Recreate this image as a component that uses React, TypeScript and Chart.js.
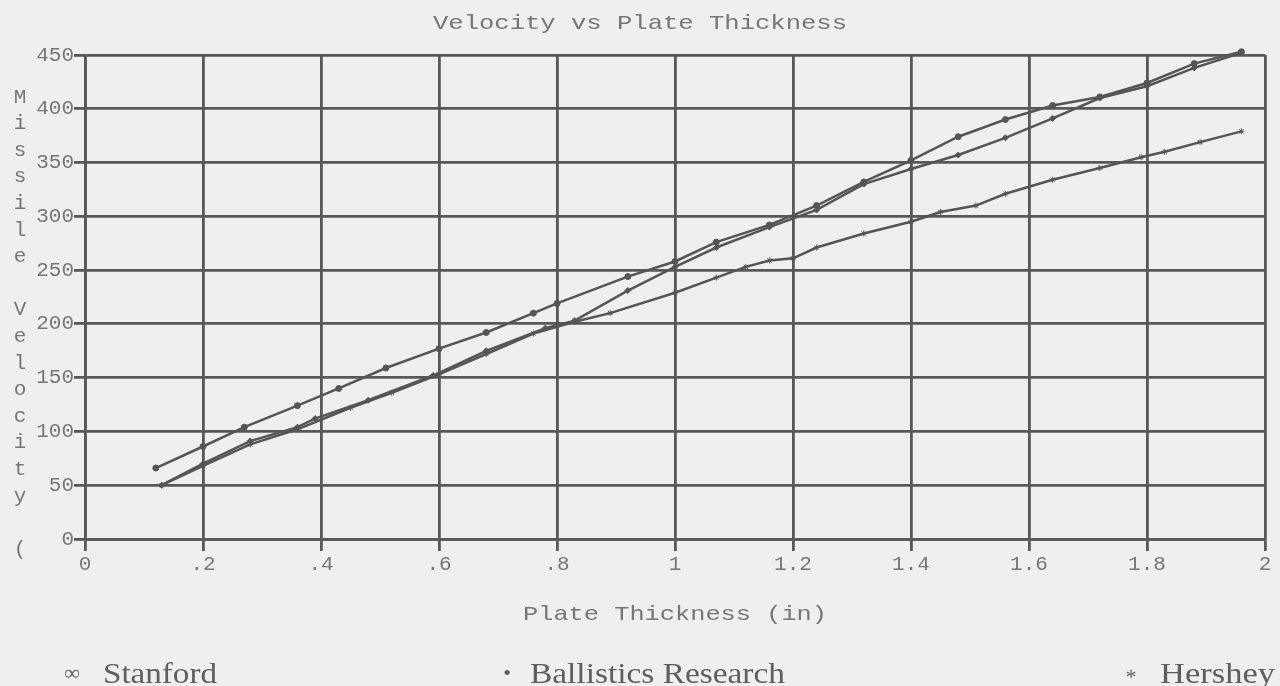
import React, { useEffect, useRef } from "react";
import { Chart, registerables } from "chart.js";

Chart.register(...registerables);

// Plate thickness (in) and missile velocity for each source
const stanfordX = [0.12, 0.2, 0.27, 0.36, 0.43, 0.51, 0.6, 0.68, 0.76, 0.8, 0.92, 1.0, 1.07, 1.16, 1.24, 1.32, 1.4, 1.48, 1.56, 1.64, 1.72, 1.8, 1.88, 1.96];
const stanfordY = [66, 86, 104, 124, 140, 159, 177, 192, 210, 219, 244, 258, 276, 292, 310, 332, 352, 374, 390, 403, 411, 424, 442, 453];

const ballisticsX = [0.13, 0.2, 0.28, 0.36, 0.39, 0.48, 0.59, 0.68, 0.78, 0.83, 0.92, 1.0, 1.07, 1.16, 1.24, 1.32, 1.4, 1.48, 1.56, 1.64, 1.72, 1.8, 1.88, 1.96];
const ballisticsY = [50, 70, 91, 104, 112, 129, 152, 175, 196, 203, 231, 253, 271, 290, 306, 330, 344, 357, 373, 391, 410, 421, 438, 452];

const hersheyX = [0.13, 0.2, 0.28, 0.36, 0.45, 0.52, 0.6, 0.68, 0.76, 0.83, 0.89, 1.0, 1.07, 1.12, 1.16, 1.2, 1.24, 1.32, 1.4, 1.45, 1.51, 1.56, 1.64, 1.72, 1.79, 1.83, 1.89, 1.96];
const hersheyY = [50, 68, 88, 102, 122, 136, 153, 172, 191, 202, 210, 229, 243, 253, 259, 261, 271, 284, 295, 304, 310, 321, 334, 345, 355, 360, 369, 379];

const xTickValues = [0, 0.2, 0.4, 0.6, 0.8, 1, 1.2, 1.4, 1.6, 1.8, 2];
const xTickLabels = ["0", ".2", ".4", ".6", ".8", "1", "1.2", "1.4", "1.6", "1.8", "2"];
const yTickValues = [0, 50, 100, 150, 200, 250, 300, 350, 400, 450];
const yTickLabels = ["0", "50", "100", "150", "200", "250", "300", "350", "400", "450"];

const chartTitle = "Velocity vs Plate Thickness";
const xTitle = "Plate Thickness (in)";
const yTitle = "Missile Velocity (";
const legendItems = [
  { symbol: "\u221E", label: "Stanford" },
  { symbol: "\u2022", label: "Ballistics Research" },
  { symbol: "*", label: "Hershey" },
];

const W = 1280;
const H = 686;
const BG = "#efefef";
const GRID = "#585858";
const LINE = "#555555";
const TEXT = "#767676";
const MONO = '"Liberation Mono", "DejaVu Sans Mono", monospace';
const SERIF = '"Liberation Serif", "DejaVu Serif", serif';

const toPoints = (xs: number[], ys: number[]) => xs.map((x, i) => ({ x, y: ys[i] }));

// Draws text horizontally stretched to a given width
function stretchedText(ctx: CanvasRenderingContext2D, text: string, x: number, y: number, width: number, align: "center" | "left") {
  const w = ctx.measureText(text).width;
  const sx = width / w;
  ctx.save();
  ctx.translate(x, y);
  ctx.scale(sx, 1);
  ctx.textAlign = align;
  ctx.fillText(text, 0, 0);
  ctx.restore();
}

const backgroundPlugin = {
  id: "paperBackground",
  beforeDraw(chart: Chart) {
    const ctx = chart.ctx;
    ctx.save();
    ctx.fillStyle = BG;
    ctx.fillRect(0, 0, chart.width, chart.height);
    ctx.restore();
  },
};

const textPlugin = {
  id: "annotationText",
  afterDraw(chart: Chart) {
    const ctx = chart.ctx;
    const area = chart.chartArea;
    ctx.save();
    ctx.fillStyle = TEXT;
    ctx.textBaseline = "middle";

    // Title
    ctx.font = `21px ${MONO}`;
    stretchedText(ctx, chartTitle, W / 2, 23, 414, "center");

    // X axis title
    stretchedText(ctx, xTitle, (area.left + area.right) / 2, 614, 304, "center");

    // Y axis title, one letter per row
    ctx.font = `21px ${MONO}`;
    ctx.textAlign = "center";
    for (let i = 0; i < yTitle.length; i++) {
      const ch = yTitle[i];
      if (ch === " ") continue;
      ctx.fillText(ch, 20, 97 + i * 26.6);
    }

    // Legend along the bottom
    ctx.fillStyle = "#5e5e5e";
    ctx.textBaseline = "alphabetic";
    const symbolX = [72, 507, 1131];
    const labelX = [103, 530, 1160];
    const labelW = [114, 255, 115];
    legendItems.forEach((item, i) => {
      ctx.font = `22px ${SERIF}`;
      ctx.textAlign = "center";
      ctx.fillText(item.symbol, symbolX[i], i === 2 ? 684 : 680);
      ctx.font = `30px ${SERIF}`;
      stretchedText(ctx, item.label, labelX[i], 683, labelW[i], "left");
    });
    ctx.restore();
  },
};

export default function App() {
  const canvasRef = useRef<HTMLCanvasElement | null>(null);

  useEffect(() => {
    const canvas = canvasRef.current;
    if (!canvas) return;
    const lineStyle = {
      borderColor: LINE,
      backgroundColor: LINE,
      borderWidth: 2.5,
      pointRadius: 3,
      pointBorderWidth: 1,
      tension: 0,
      fill: false,
      clip: false as const,
    };
    const chart = new Chart(canvas, {
      type: "line",
      data: {
        datasets: [
          { label: "Stanford", data: toPoints(stanfordX, stanfordY), pointStyle: "circle", ...lineStyle },
          { label: "Ballistics Research", data: toPoints(ballisticsX, ballisticsY), pointStyle: "rectRot", ...lineStyle },
          { label: "Hershey", data: toPoints(hersheyX, hersheyY), pointStyle: "star", ...lineStyle },
        ],
      },
      options: {
        responsive: false,
        animation: false,
        parsing: false,
        layout: { padding: { top: 55, right: 15, bottom: 107, left: 0 } },
        plugins: {
          legend: { display: false },
          title: { display: false },
          tooltip: { enabled: false },
        },
        scales: {
          x: {
            type: "linear",
            min: 0,
            max: 2,
            afterBuildTicks: (s: any) => {
              s.ticks = xTickValues.map((v) => ({ value: v }));
            },
            afterFit: (s: any) => {
              s.height = 40;
            },
            grid: { color: GRID, lineWidth: 2.8, tickLength: 12, drawTicks: true },
            border: { color: GRID, width: 2.8 },
            ticks: {
              color: TEXT,
              font: { family: MONO, size: 21 },
              padding: 1,
              maxRotation: 0,
              autoSkip: false,
              callback: (_v: any, i: number) => xTickLabels[i],
            },
          },
          y: {
            type: "linear",
            min: 0,
            max: 450,
            afterBuildTicks: (s: any) => {
              s.ticks = yTickValues.map((v) => ({ value: v }));
            },
            afterFit: (s: any) => {
              s.width = 85;
            },
            grid: { color: GRID, lineWidth: 2.8, tickLength: 11, drawTicks: true },
            border: { color: GRID, width: 2.8 },
            ticks: {
              color: TEXT,
              font: { family: MONO, size: 21 },
              padding: 0,
              autoSkip: false,
              callback: (_v: any, i: number) => yTickLabels[i],
            },
          },
        },
      },
      plugins: [backgroundPlugin, textPlugin],
    });
    return () => chart.destroy();
  }, []);

  return (
    <div style={{ position: "absolute", left: 0, top: 0, width: W, height: H, background: BG }}>
      <canvas ref={canvasRef} width={W} height={H} style={{ display: "block", width: W, height: H }} />
    </div>
  );
}
